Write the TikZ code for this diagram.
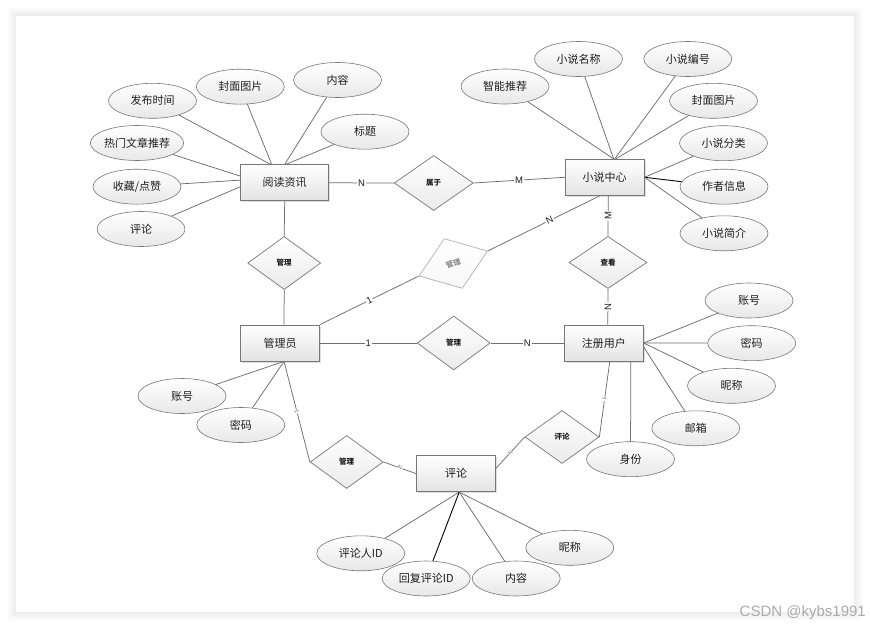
\documentclass[tikz,border=0pt]{standalone}
\usepackage{fontspec}
\setmainfont{Noto Sans CJK SC}
\newfontfamily\lat{Liberation Sans}
\usetikzlibrary{shapes.geometric,shadows}
\definecolor{edgec}{HTML}{6E6E6E}
\definecolor{bord}{HTML}{777777}
\definecolor{txt}{HTML}{1E1E1E}
\begin{document}
\begin{tikzpicture}[x=1pt,y=-1pt,
 ent/.style={rectangle,draw=bord,line width=0.8pt,top color=white,bottom color=black!11,minimum width=79pt,minimum height=36pt,inner sep=0pt,font=\fontsize{11}{13}\selectfont,text=txt,drop shadow={shadow xshift=1.5pt,shadow yshift=-1.5pt,opacity=0.25}},
 attr/.style={ellipse,draw=bord,line width=0.6pt,top color=white,bottom color=black!9,minimum width=88pt,minimum height=35pt,inner sep=0pt,font=\fontsize{11}{13}\selectfont,text=txt},
 rel/.style={diamond,draw=bord,line width=0.7pt,top color=white,bottom color=black!8,minimum width=73pt,minimum height=53pt,inner sep=0pt,font=\fontsize{7.5}{9}\selectfont\bfseries,text=txt},
 con/.style={draw=edgec,line width=0.75pt},
 dark/.style={draw=black,line width=0.9pt},
 lbl/.style={fill=white,inner sep=1pt,font=\lat\fontsize{9.5}{10}\selectfont,text=txt},
 tiny/.style={fill=white,inner sep=0.3pt,font=\lat\fontsize{5.5}{5.5}\selectfont,text=black!60,sloped},
]
\useasboundingbox (0,0) rectangle (870,629);
\fill[white] (0,0) rectangle (870,629);
\foreach \i in {1,...,9} \fill[black,opacity=0.008] (16-\i,16-\i) rectangle (854+\i,612+\i);
\fill[white] (16,16) rectangle (854,612);

% entities
\node[ent,minimum width=88pt] (rd) at (284.7,182.8) {阅读资讯};
\node[ent] (xs) at (604.7,177.3) {小说中心};
\node[ent] (gly) at (280,343) {管理员};
\node[ent] (zc) at (603.8,343) {注册用户};
\node[ent] (pl) at (456.2,473.7) {评论};

% relationships
\node[rel,minimum width=79pt,minimum height=55pt] (sy) at (433.7,183) {属于};
\node[rel] (gl1) at (284.2,263) {管理};
\node[rel,draw=black!30,text=black!45,top color=white,bottom color=black!3,rotate=20] (gl2) at (453.3,263.5) {管理};
\node[rel,minimum width=78pt,minimum height=52pt] (ck) at (608,262.5) {查看};
\node[rel,minimum height=54pt] (gl3) at (453.7,343) {管理};
\node[rel] (gl4) at (346.7,462) {管理};
\node[rel,minimum width=74pt] (pl2) at (562,437) {评论};

% attributes of 阅读资讯
\node[attr] (a1) at (152.5,100.8) {发布时间};
\node[attr] (a2) at (240.3,86.7) {封面图片};
\node[attr] (a3) at (337.5,80) {内容};
\node[attr] (a4) at (365,131.7) {标题};
\node[attr] (a5) at (137,143) {热门文章推荐};
\node[attr] (a6) at (137,186.7) {收藏/点赞};
\node[attr] (a7) at (141,229) {评论};
% attributes of 小说中心
\node[attr] (b1) at (505,86.5) {智能推荐};
\node[attr] (b2) at (578.5,59) {小说名称};
\node[attr] (b3) at (687.8,59) {小说编号};
\node[attr] (b4) at (713.5,100.8) {封面图片};
\node[attr] (b5) at (723.5,143.2) {小说分类};
\node[attr] (b6) at (724,186.7) {作者信息};
\node[attr] (b7) at (724,233.3) {小说简介};
% attributes of 管理员
\node[attr] (c1) at (182,396) {账号};
\node[attr] (c2) at (240.8,425) {密码};
% attributes of 注册用户
\node[attr] (d1) at (749,300.5) {账号};
\node[attr] (d2) at (751.7,343.2) {密码};
\node[attr] (d3) at (731.5,385.8) {昵称};
\node[attr] (d4) at (695.8,428.3) {邮箱};
\node[attr] (d5) at (630.5,459.2) {身份};
% attributes of 评论
\node[attr] (e1) at (360.8,553.3) {评论人ID};
\node[attr] (e2) at (426.2,578.5) {回复评论ID};
\node[attr] (e3) at (516.2,578.5) {内容};
\node[attr] (e4) at (569.8,547.8) {昵称};

% attribute connectors
\draw[con] (a1) -- ([xshift=-14pt]rd.north);
\draw[con] (a2) -- ([xshift=-13pt]rd.north);
\draw[con] (a3) -- (rd.north);
\draw[con] (a4) -- ([xshift=1pt]rd.north);
\draw[con] (a5) -- ([yshift=6.7pt]rd.west);
\draw[con] (a6) -- ([yshift=2.7pt]rd.west);
\draw[con] (a7) -- ([yshift=-4pt]rd.west);
\draw[con] (b1) -- ([xshift=9pt]xs.north);
\draw[con] (b2) -- ([xshift=9pt]xs.north);
\draw[con] (b3) -- ([xshift=10pt]xs.north);
\draw[con] (b4) -- ([xshift=11pt]xs.north);
\draw[con] (b5) -- (xs.east);
\draw[dark] (b6) -- (xs.east);
\draw[con] (b7) -- (xs.east);
\draw[con] (c1) -- ([xshift=4pt]gly.south);
\draw[con] (c2) -- ([xshift=4pt]gly.south);
\draw[con] (d1) -- (zc.east);
\draw[con] (d2) -- (zc.east);
\draw[con] (d3) -- (zc.east);
\draw[con] (d4) -- ([yshift=-4pt]zc.east);
\draw[con] (d5) -- ([xshift=27pt]zc.south);
\draw[con] (e1) -- ([xshift=3pt]pl.south);
\draw[dark] (e2) -- ([xshift=3pt]pl.south);
\draw[con] (e3) -- ([xshift=3pt]pl.south);
\draw[con] (e4) -- ([xshift=3pt]pl.south);

% relationship connectors
\draw[con] (rd.east) -- node[lbl] {N} (sy.west);
\draw[con] (sy.east) -- node[lbl] {M} (xs.west);
\draw[con] (rd.south) -- (gl1.north);
\draw[con] (gl1.south) -- ([xshift=4pt]gly.north);
\draw[con] (gly.north east) -- node[lbl,sloped] {1} (gl2.west);
\draw[con] (gl2.east) -- node[lbl,sloped,pos=0.55] {N} ([xshift=-4.7pt]xs.south);
\draw[con] ([xshift=3.5pt]xs.south) -- node[lbl,rotate=90] {M} (ck.north);
\draw[con] (ck.south) -- node[lbl,rotate=90] {N} ([xshift=4pt]zc.north);
\draw[con] (gly.east) -- node[lbl] {1} (gl3.west);
\draw[con] (gl3.east) -- node[lbl] {N} (zc.west);
\draw[con] ([xshift=4pt]gly.south) -- node[tiny] {1} (gl4.west);
\draw[con] (gl4.east) -- node[tiny] {N} (pl.west);
\draw[con] ([xshift=6pt]zc.south) -- node[tiny] {1} (pl2.east);
\draw[con] (pl2.west) -- node[tiny] {N} ([yshift=5.5pt]pl.east);

% watermark
\node[font=\lat\fontsize{15}{16}\selectfont,text=black!33,anchor=east,inner sep=0pt] (wm) at (866,613) {CSDN @kybs1991};
\end{tikzpicture}
\end{document}
